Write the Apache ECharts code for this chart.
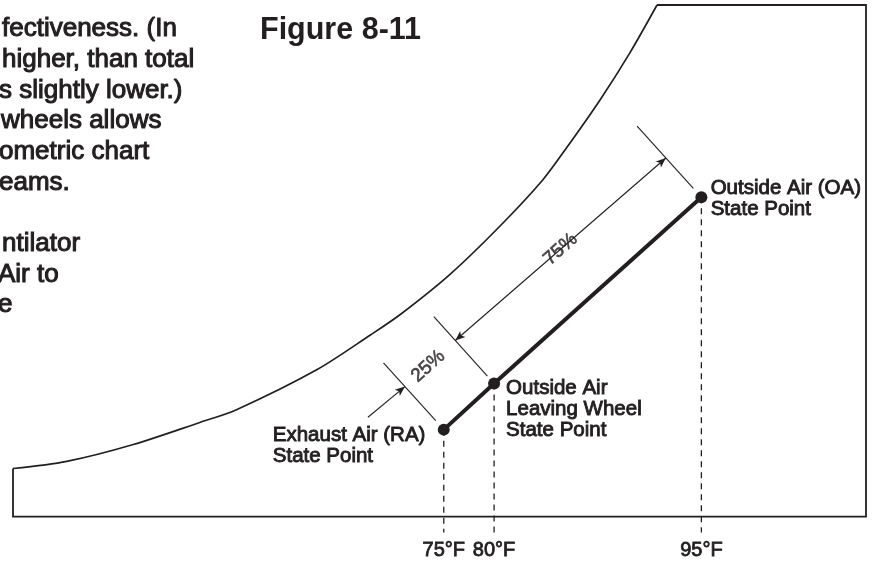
<!DOCTYPE html>
<html>
<head>
<meta charset="utf-8">
<title>Figure 8-11</title>
<script src="https://cdn.jsdelivr.net/npm/echarts@6/dist/echarts.min.js"></script>
<style>
  html, body { margin: 0; padding: 0; background: #ffffff; }
  #chart { width: 877px; height: 561px; }
</style>
</head>
<body>
<div id="chart"></div>
<script>
// ---- Chart data (schematic chart units, 0-100 on both axes) ----
const stateNames = ['Exhaust Air (RA)\nState Point', 'Outside Air\nLeaving Wheel\nState Point', 'Outside Air (OA)\nState Point'];
const stateX = [50.5, 56.4, 80.7];
const stateY = [17.0, 26.0, 62.4];
const dryBulbLabels = ['75°F', '80°F', '95°F'];

// Saturation curve (left/upper boundary of the chart)
const saturationX = [0, 6.3, 14.1, 21.9, 26.2, 35.6, 41.9, 45.4, 51.2, 57.1, 62.1, 64.9, 68.8, 72.3, 75.5];
const saturationY = [9.4, 10.8, 14.1, 18.4, 20.9, 28.7, 35.5, 39.5, 47.3, 56.8, 65.8, 72.1, 81.4, 90.6, 100];

// Rest of the chart border: left edge, baseline, right edge, top edge
const borderX = [0, 0, 100, 100, 75.5];
const borderY = [9.4, 0, 0, 100, 100];

// Effectiveness split along the process line (RA -> wheel, wheel -> OA)
const sectionLabels = ['25%', '75%'];

// Body copy set beside the figure
const figureTitle = 'Figure 8-11';
const bodyLines = ['fectiveness. (In', 'higher, than total', 's slightly lower.)', 'wheels allows', 'ometric chart', 'eams.', '', 'ntilator', 'Air to', 'e'];

// ---- Styling ----
const INK = '#231f20';
const FONT = '"Liberation Sans", Arial, Helvetica, sans-serif';
const labelOffsets = [[-165, 1.5], [18, -0.2], [15.3, -13.2]];
const bodyIndent = [2, 2, -1, 1, -1, -1, 0, 2, -2, -2];
const BODY_TOP = 29;
const BODY_LEADING = 30.7;
const DROP_TO = -3.1; // dashed drop lines run a little below the baseline

// Dimension geometry in pixels, measured perpendicular to / along the process line
const DIM = {
  extension: [[12, 90], [10, 90], [12, 96]],
  arrowLow: 58,
  arrowHigh: 53,
  leaderFrom: [-48, 60],
  leaderTo: [0, 58],
  text25: [31, 57.5]
};

const zip = (xs, ys) => xs.map((x, i) => [x, ys[i]]);

const chart = echarts.init(document.getElementById('chart'), null, { renderer: 'canvas' });

const dropSeries = stateX.map((x, i) => ({
  id: 'drop-' + i,
  type: 'line',
  data: [[x, stateY[i]], [x, DROP_TO]],
  symbol: 'none',
  clip: false,
  silent: true,
  z: 2,
  lineStyle: { color: INK, width: 1.3, type: [6, 5] }
}));

const graphicText = [
  {
    type: 'text', x: 260, y: 31,
    style: {
      text: figureTitle, fill: INK, fontFamily: FONT, fontSize: 30.5, fontWeight: 'bold',
      verticalAlign: 'middle', align: 'left'
    }
  }
].concat(bodyLines.map((t, i) => ({
  type: 'text', x: bodyIndent[i], y: BODY_TOP + BODY_LEADING * i,
  style: {
    text: t, fill: INK, fontFamily: FONT, fontSize: 26, fontWeight: 'normal',
    stroke: INK, lineWidth: 1.05, verticalAlign: 'middle', align: 'left'
  }
})));

chart.setOption({
  animation: false,
  backgroundColor: '#ffffff',
  grid: { left: 13, right: 11, top: 5, bottom: 44 },
  xAxis: {
    type: 'value', min: 0, max: 100,
    axisLine: { show: false },
    axisTick: { show: false },
    splitLine: { show: false },
    axisLabel: {
      customValues: stateX,
      formatter: v => {
        const i = stateX.indexOf(v);
        return i >= 0 ? dryBulbLabels[i] : '';
      },
      margin: 24,
      fontSize: 20,
      lineHeight: 20,
      fontFamily: FONT,
      color: INK,
      textBorderColor: INK,
      textBorderWidth: 0.8
    }
  },
  yAxis: { type: 'value', min: 0, max: 100, show: false },
  graphic: graphicText,
  series: [
    {
      id: 'saturation',
      type: 'line',
      data: zip(saturationX, saturationY),
      smooth: 0.3,
      symbol: 'none',
      silent: true,
      lineStyle: { color: INK, width: 1.7 }
    },
    {
      id: 'border',
      type: 'line',
      data: zip(borderX, borderY),
      symbol: 'none',
      silent: true,
      clip: false,
      lineStyle: { color: INK, width: 1.8, join: 'miter' }
    },
    ...dropSeries,
    {
      id: 'process',
      type: 'line',
      z: 5,
      data: stateX.map((x, i) => ({
        value: [x, stateY[i]],
        label: { position: labelOffsets[i] }
      })),
      symbol: 'circle',
      symbolSize: 12,
      silent: true,
      itemStyle: { color: INK },
      lineStyle: { color: INK, width: 4 },
      label: {
        show: true,
        formatter: p => stateNames[p.dataIndex],
        align: 'left',
        verticalAlign: 'top',
        fontFamily: FONT,
        fontSize: 20.5,
        lineHeight: 21,
        color: INK,
        textBorderColor: INK,
        textBorderWidth: 0.9
      }
    },
    {
      id: 'sections',
      type: 'scatter',
      data: [],
      symbolSize: 1,
      silent: true,
      z: 6,
      itemStyle: { color: 'transparent' },
      label: {
        show: true,
        position: 'inside',
        formatter: p => sectionLabels[p.dataIndex],
        fontFamily: FONT,
        fontSize: 19,
        color: INK,
        textBorderColor: INK,
        textBorderWidth: 0.6
      }
    }
  ]
});

// ---- Dimension lines, built from the state points through the grid's scales ----
const toPx = i => chart.convertToPixel({ gridIndex: 0 }, [stateX[i], stateY[i]]);
const pts = stateX.map((_, i) => toPx(i));
const dx = pts[2][0] - pts[0][0];
const dy = pts[2][1] - pts[0][1];
const len = Math.hypot(dx, dy);
const u = [dx / len, dy / len];      // along the process line
const n = [u[1], -u[0]];             // perpendicular, toward the saturation curve
const at = (p, along, perp) => chart.convertFromPixel({ gridIndex: 0 }, [
  p[0] + u[0] * along + n[0] * perp,
  p[1] + u[1] * along + n[1] * perp
]);

const dimLines = DIM.extension.map((e, i) => [
  { coord: at(pts[i], 0, e[0]), symbol: 'none' },
  { coord: at(pts[i], 0, e[1]), symbol: 'none' }
]);
const arrowA = at(pts[1], 0, DIM.arrowLow);
const arrowB = at(pts[2], 0, DIM.arrowHigh);
dimLines.push([
  { coord: arrowA, symbol: 'arrow' },
  { coord: arrowB, symbol: 'arrow' }
]);
dimLines.push([
  { coord: at(pts[0], DIM.leaderFrom[0], DIM.leaderFrom[1]), symbol: 'none' },
  { coord: at(pts[0], DIM.leaderTo[0], DIM.leaderTo[1]), symbol: 'arrow' }
]);

const angle = Math.atan2(-u[1], u[0]) * 180 / Math.PI;
const pxA = chart.convertToPixel({ gridIndex: 0 }, arrowA);
const pxB = chart.convertToPixel({ gridIndex: 0 }, arrowB);
const mid75 = chart.convertFromPixel({ gridIndex: 0 }, [(pxA[0] + pxB[0]) / 2, (pxA[1] + pxB[1]) / 2]);

chart.setOption({
  series: [
    {
      id: 'border',
      markLine: {
        silent: true,
        animation: false,
        symbolSize: [6, 10],
        label: { show: false },
        emphasis: { disabled: true },
        lineStyle: { color: INK, width: 1.1, type: 'solid' },
        itemStyle: { color: INK },
        data: dimLines
      }
    },
    {
      id: 'sections',
      data: [
        { value: at(pts[0], DIM.text25[0], DIM.text25[1]), label: { rotate: angle } },
        { value: mid75, label: { rotate: angle } }
      ]
    }
  ]
});
</script>
</body>
</html>
